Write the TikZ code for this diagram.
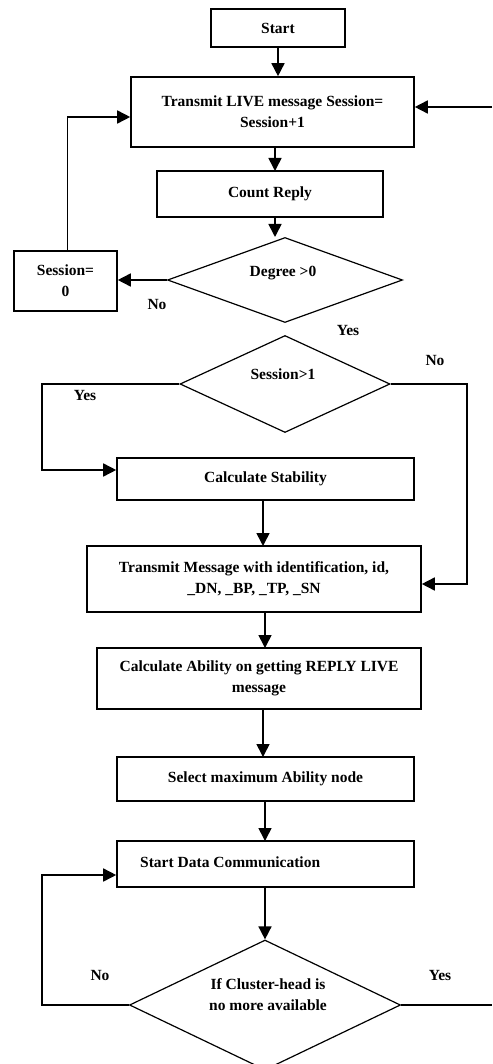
\documentclass[tikz,border=0pt]{standalone}
\usepackage{fontspec}
\setmainfont{Liberation Serif}
\usetikzlibrary{arrows.meta,shapes.geometric,positioning}
\begin{document}
\begin{tikzpicture}[x=1pt,y=-1pt,
  every node/.style={font=\fontsize{15.5}{21}\selectfont\bfseries},
  box/.style={draw,line width=1.6pt,inner sep=0pt,align=center},
  dia/.style={draw,diamond,line width=1.2pt,inner sep=0pt,aspect=2},
  lbl/.style={inner sep=0pt},
  conn/.style={line width=1.6pt},
  arr/.style={conn,-{Triangle[length=13pt,width=13pt]}}]
\useasboundingbox (0,0) rectangle (492,1064);
% boxes
\node[box,minimum width=134,minimum height=38] (start) at (278,28) {Start};
\node[box,minimum width=283,minimum height=70] (live) at (272.5,112) {Transmit LIVE message Session=\\Session+1};
\node[box,minimum width=226,minimum height=46] (count) at (270,194) {Count Reply};
\node[box,minimum width=103,minimum height=60] (s0) at (65.5,281) {Session=\\0};
\node[box,minimum width=297,minimum height=42] (stab) at (265.5,479) {Calculate Stability};
\node[box,minimum width=334,minimum height=66] (tm) at (254,579) {Transmit Message with identification, id,\\\_DN, \_BP, \_TP, \_SN};
\node[box,minimum width=324,minimum height=61] (ab) at (259,678.5) {Calculate Ability on getting REPLY LIVE\\message};
\node[box,minimum width=297,minimum height=44] (sel) at (265.5,779) {Select maximum Ability node};
\node[box,minimum width=297,minimum height=46] (sd) at (265.5,864) {};
\node[lbl,anchor=west] (sdt) at (140,862) {Start Data Communication};
% diamonds
\node[dia,minimum width=235,minimum height=85] (d1) at (285,280) {};
\node[lbl] (d1t) at (283,273) {Degree >0};
\node[dia,minimum width=210,minimum height=97] (d2) at (285,384) {};
\node[lbl] (d2t) at (283,374) {Session>1};
\node[dia,minimum width=271,minimum height=130] (d3) at (265,1005) {};
\node[lbl,align=center] (d3t) at (268,995) {If Cluster-head is\\no more available};
% labels
\node[lbl] (l1) at (157,305) {No};
\node[lbl] (l2) at (348,330) {Yes};
\node[lbl] (l3) at (435,360) {No};
\node[lbl] (l4) at (85,395) {Yes};
\node[lbl] (l5) at (100,975) {No};
\node[lbl] (l6) at (440,975) {Yes};
% free ends
\coordinate (inR) at (492,107);
\coordinate (outR) at (492,1005);
% connectors
\draw[arr] (start.south) -- (start.south |- live.north);
\draw[arr] (275,147) -- (275,171);
\draw[arr] (275,217) -- (275,237);
\draw[arr] (d1.west) -- (d1.west -| s0.east);
\draw[arr] ([xshift=2pt]s0.north) |- ([yshift=-5pt]live.west);
\draw[arr] (inR) -- (inR -| live.east);
\draw[arr] (d2.west) -- (42,384) |- ([yshift=9pt]stab.west);
\draw[arr] (d2.east) -- (467,384) |- ([yshift=-5pt]tm.east);
\draw[arr] (263,500) -- (263,546);
\draw[arr] (265,612) -- (265,648);
\draw[arr] (263,709) -- (263,757);
\draw[arr] (265,801) -- (265,841);
\draw[arr] (265,887) -- (d3.north);
\draw[arr] (d3.west) -- (42,1005) |- ([yshift=-11pt]sd.west);
\draw[conn] (d3.east) -- (outR);
\end{tikzpicture}
\end{document}
